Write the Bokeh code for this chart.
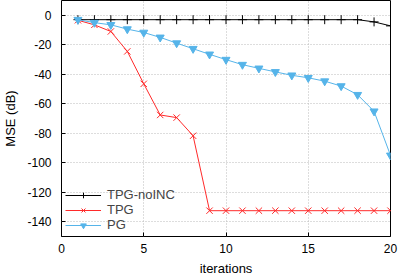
from bokeh.plotting import figure
from bokeh.models import Legend, LegendItem, FixedTicker
from bokeh.embed import file_html
from bokeh.resources import INLINE

iterations = list(range(1, 21))
tpg_noinc = [-3, -3, -3, -3, -3, -3, -3, -3, -3, -3, -3, -3, -3, -3, -3, -3, -3, -3, -4.5, -7.2]
tpg = [-3.4, -6.5, -11, -24.5, -46.5, -67.6, -69.4, -81.7, -132.5, -132.5, -132.5, -132.5,
       -132.5, -132.5, -132.5, -132.5, -132.5, -132.5, -132.5, -132.5]
pg = [-3, -5, -6.5, -9.4, -11.7, -15, -18.9, -22.7, -26.5, -30.1, -33.5, -36, -38.4, -40.7,
      -42.4, -44.7, -48, -53.9, -65.1, -95]

x_ticks = [0, 5, 10, 15, 20]
y_ticks = [0, -20, -40, -60, -80, -100, -120, -140]

FONT = "Liberation Sans"

p = figure(frame_width=329, frame_height=236, x_range=(0, 20), y_range=(-150, 10),
           output_backend="svg", toolbar_location=None,
           min_border_left=52, min_border_right=9, min_border_top=0, min_border_bottom=38)

p.outline_line_color = "black"
p.outline_line_width = 1

for ax in (p.xaxis[0], p.yaxis[0]):
    ax.axis_line_color = None
    ax.major_tick_in = 4
    ax.major_tick_out = 0
    ax.minor_tick_line_color = None
    ax.major_tick_line_color = "black"
    ax.major_label_text_font = FONT
    ax.major_label_text_font_size = "12px"
    ax.major_label_text_color = "black"
    ax.axis_label_text_font = FONT
    ax.axis_label_text_font_size = "13px"
    ax.axis_label_text_font_style = "normal"
    ax.axis_label_text_color = "black"

p.xaxis.ticker = FixedTicker(ticks=x_ticks)
p.yaxis.ticker = FixedTicker(ticks=y_ticks)
p.yaxis.major_label_overrides = {t: str(t) for t in y_ticks}
p.xaxis.major_label_standoff = 7
p.yaxis.major_label_standoff = 10
p.xaxis.axis_label = "iterations"
p.yaxis.axis_label = "MSE (dB)"
p.xaxis.axis_label_standoff = 5
p.yaxis.axis_label_standoff = 6

p.grid.grid_line_color = "#bbbbbb"
p.grid.grid_line_dash = "1 2"
p.grid.grid_line_width = 1

black = "#000000"
red = "#ff2a2a"
blue = "#56b4e9"

l1 = p.line(iterations, tpg_noinc, line_color=black, line_width=1)
m1 = p.scatter(iterations, tpg_noinc, marker="cross", size=9, line_color=black, line_width=1)
l2 = p.line(iterations, tpg, line_color=red, line_width=1)
m2 = p.scatter(iterations, tpg, marker="x", size=9, line_color=red, line_width=1)
l3 = p.line(iterations, pg, line_color=blue, line_width=1)
m3 = p.scatter(iterations, pg, marker="inverted_triangle", size=8, line_color=blue,
               fill_color=blue)

legend = Legend(items=[
    LegendItem(label="TPG-noINC", renderers=[l1, m1]),
    LegendItem(label="TPG", renderers=[l2, m2]),
    LegendItem(label="PG", renderers=[l3, m3]),
], location="bottom_left")
legend.background_fill_alpha = 0
legend.border_line_color = None
legend.label_text_font = FONT
legend.label_text_font_size = "13px"
legend.glyph_width = 36
legend.glyph_height = 14
legend.label_height = 14
legend.spacing = 0
legend.padding = 2
legend.margin = 4
legend.label_standoff = 6
p.add_layout(legend)

open("out.html", "w").write(file_html(p, INLINE))
